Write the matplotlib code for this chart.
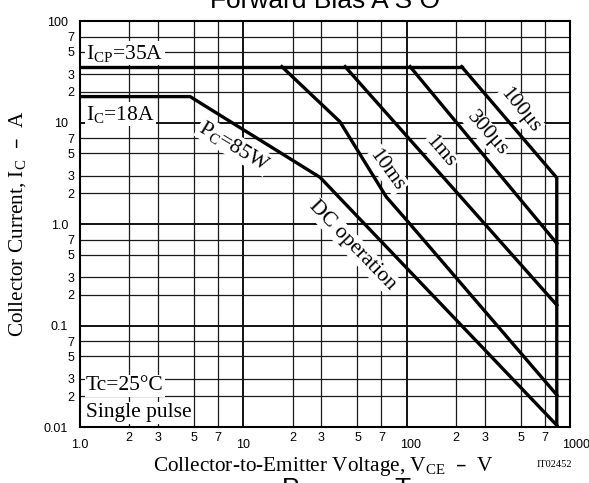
import matplotlib
matplotlib.use('Agg')
import matplotlib.pyplot as plt
import matplotlib.transforms as mtransforms
from matplotlib.ticker import FixedLocator, FixedFormatter

SERIF = 'Liberation Serif'
SANS = 'Liberation Sans'

# ---------------- data ----------------
icp_v = [1.0, 217.0]
icp_i = [35.5, 35.5]
dc_v = [1.0, 4.72, 29.5, 830.0]
dc_i = [18.0, 18.0, 2.88, 0.0104]
t10ms_v = [17.2, 39.0, 75.0, 100.0, 830.0]
t10ms_i = [35.5, 10.2, 1.85, 1.09, 0.0207]
t1ms_v = [42.0, 830.0]
t1ms_i = [35.5, 0.159]
t300us_v = [105.0, 830.0]
t300us_i = [35.5, 0.645]
t100us_v = [217.0, 830.0, 830.0]
t100us_i = [35.5, 2.85, 0.0100]

x_major = [1, 10, 100, 1000]
x_major_labels = ['1.0', '10', '100', '1000']
x_minor = [2, 3, 5, 7, 20, 30, 50, 70, 200, 300, 500, 700]
x_minor_labels = ['2', '3', '5', '7'] * 3
y_major = [0.01, 0.1, 1, 10, 100]
y_major_labels = ['0.01', '0.1', '1.0', '10', '100']
y_minor = [0.02, 0.03, 0.05, 0.07, 0.2, 0.3, 0.5, 0.7,
           2, 3, 5, 7, 20, 30, 50, 70]
y_minor_labels = ['2', '3', '5', '7'] * 4

# ---------------- figure ----------------
W, H = 589, 483
fig = plt.figure(figsize=(W / 100, H / 100), dpi=100)
L, R, T, B = 80, 570, 21, 427
ax = fig.add_axes([L / W, 1 - B / H, (R - L) / W, (B - T) / H])
ax.set_xscale('log')
ax.set_yscale('log')
ax.set_xlim(1, 1000)
ax.set_ylim(0.01, 100)

ax.xaxis.set_major_locator(FixedLocator(x_major))
ax.xaxis.set_major_formatter(FixedFormatter(x_major_labels))
ax.xaxis.set_minor_locator(FixedLocator(x_minor))
ax.xaxis.set_minor_formatter(FixedFormatter(x_minor_labels))
ax.yaxis.set_major_locator(FixedLocator(y_major))
ax.yaxis.set_major_formatter(FixedFormatter(y_major_labels))
ax.yaxis.set_minor_locator(FixedLocator(y_minor))
ax.yaxis.set_minor_formatter(FixedFormatter(y_minor_labels))

tls = 9
ax.tick_params(axis='x', which='major', length=0, pad=8.4, labelsize=tls)
ax.tick_params(axis='x', which='minor', length=0, pad=3.8, labelsize=tls)
ax.tick_params(axis='y', which='major', length=0, pad=8.6, labelsize=tls)
ax.tick_params(axis='y', which='minor', length=0, pad=4.3, labelsize=tls)
for lab in ax.get_xticklabels(which='both') + ax.get_yticklabels(which='both'):
    lab.set_fontfamily(SANS)

# shift "100" and "1000" a little right, like the reference
for lab in ax.get_xticklabels(which='major'):
    txt = lab.get_text()
    dx = {'100': 4, '1000': 6}.get(txt, 0)
    if dx:
        lab.set_transform(lab.get_transform() +
                          mtransforms.ScaledTranslation(dx / 100, 0, fig.dpi_scale_trans))

ax.grid(True, which='major', color='#111111', lw=1.4)
ax.grid(True, which='minor', color='#1a1a1a', lw=0.9)
ax.set_axisbelow(True)
for s in ax.spines.values():
    s.set_linewidth(1.5)
    s.set_color('black')

lw = 2.4
kw = dict(color='black', lw=lw, solid_joinstyle='miter', zorder=5)
ax.plot(icp_v, icp_i, **kw)
ax.plot(dc_v, dc_i, **kw)
ax.plot(t10ms_v, t10ms_i, **kw)
ax.plot(t1ms_v, t1ms_i, **kw)
ax.plot(t300us_v, t300us_i, **kw)
ax.plot(t100us_v, t100us_i, **kw)


def P(x, y):
    return ((x - L) / (R - L), (B - y) / (B - T))


wb = dict(facecolor='white', edgecolor='none', pad=1.0)
fs = 15.5


def note(x, y, s, rot=0, ha='center'):
    ax.text(*P(x, y), s, transform=ax.transAxes, ha=ha, va='center',
            fontsize=fs, family=SERIF, rotation=rot, rotation_mode='anchor',
            bbox=wb, zorder=6)


note(86, 53, r'$\mathregular{I_{CP}}$=35A', ha='left')
note(86, 114, r'$\mathregular{I_C}$=18A', ha='left')
note(234, 146, r'$\mathregular{P_C}$=85W', rot=-31)
note(352, 245, 'DC operation', rot=-46)
note(387, 170, '10ms', rot=-54)
note(440, 152, '1ms', rot=-49)
note(487, 134, '300\u03bcs', rot=-49)
note(520, 110, '100\u03bcs', rot=-51)
note(86, 386, 'Tc=25\u00b0C', ha='left')
note(86, 413, 'Single pulse', ha='left')

# axis labels
fig.text(18 / W, 1 - 224 / H, 'Collector Current, $\\mathregular{I_C}$  \u2013  A',
         rotation=90, ha='center', va='center', fontsize=15.3, family=SERIF)
fig.text(323 / W, 1 - 471 / H, 'Collector-to-Emitter Voltage, $\\mathregular{V_{CE}}$  \u2013  V',
         ha='center', va='baseline', fontsize=15.3, family=SERIF)
fig.text(554 / W, 1 - 467 / H, 'IT02452', ha='center', va='baseline', fontsize=7.5, family=SERIF)

# cut-off titles at the edges (as in the reference scan)
fig.text(325 / W, 1 - 8 / H, 'Forward Bias A S O', ha='center', va='baseline',
         fontsize=19, family=SANS)
fig.text(291 / W, 1 - 477 / H, 'P', ha='center', va='top', fontsize=19, family=SANS)
fig.text(402 / W, 1 - 477 / H, 'T', ha='center', va='top', fontsize=19, family=SANS)

fig.savefig('out.png', dpi=100)
